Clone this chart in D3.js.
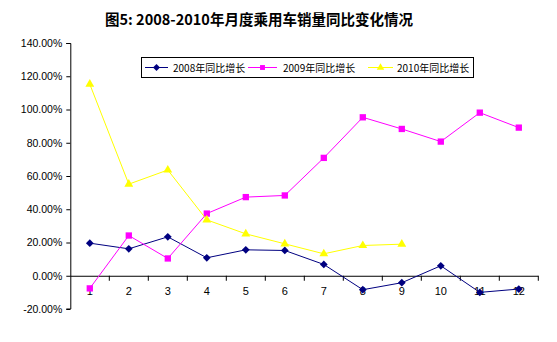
<!DOCTYPE html>
<html><head><meta charset="utf-8">
<script src="https://cdn.jsdelivr.net/npm/d3@7"></script>
<style>body{margin:0;background:#fff}svg{display:block}</style>
</head><body>
<script>
const title = "图5: 2008-2010年月度乘用车销量同比变化情况";
const months = ["1","2","3","4","5","6","7","8","9","10","11","12"];
const yTicks = [-20,0,20,40,60,80,100,120,140];
const s2008 = [19.6,16.2,23.4,10.8,15.6,15.2,6.8,-8.4,-4.2,6.0,-10.0,-8.0];
const s2009 = [-7.6,24.2,10.4,37.4,47.3,48.3,70.9,95.3,88.3,80.7,98.1,89.1];
const s2010 = [115.2,55.1,63.6,33.6,25.2,19.2,13.2,18.2,19.0];
const seriesNames = ["2008年同比增长","2009年同比增长","2010年同比增长"];
const colors = ["#000080","#FF00FF","#FFFF00"];
const diamond = {draw(ctx,size){const r=Math.sqrt(size/2);ctx.moveTo(0,-r);ctx.lineTo(r,0);ctx.lineTo(0,r);ctx.lineTo(-r,0);ctx.closePath();}};
const shapes = [diamond, d3.symbolSquare, d3.symbolTriangle];
const sizes = [30,40,34];

const W=557,H=342;
const svg=d3.select("body").append("svg").attr("width",W).attr("height",H);
const x=d3.scaleBand().domain(months).range([70.3,538.3]);
const y=d3.scaleLinear().domain([-20,140]).range([309,43]);

svg.append("text").attr("x",259).attr("y",25).attr("text-anchor","middle")
  .attr("font-family","'Noto Sans CJK SC'").attr("font-weight","bold").attr("font-size",14.5)
  .text(title);

// y axis
const ya=svg.append("g").attr("transform","translate(70.3,0)")
  .call(d3.axisLeft(y).tickValues(yTicks).tickSize(4).tickPadding(4).tickFormat(d=>d.toFixed(2)+"%"));
ya.select(".domain").attr("stroke","#000").attr("d","M-4,43.5H0.5V309H-4");
ya.selectAll("line").attr("stroke","#000");
ya.selectAll("text").attr("font-family","'Liberation Sans'").attr("font-size",10.5).attr("fill","#000");

// x axis at 0
const xa=svg.append("g").attr("transform",`translate(0,${y(0)})`)
  .call(d3.axisBottom(x).tickSize(0).tickPadding(11));
xa.select(".domain").attr("d",`M70.3,0.5H538.3`).attr("stroke","#000");
xa.selectAll("text").attr("font-family","'Liberation Sans'").attr("font-size",11).attr("fill","#000");
xa.selectAll(".bt").data(d3.range(1,13)).enter().append("line").attr("class","bt")
  .attr("x1",i=>70.3+i*x.step()).attr("x2",i=>70.3+i*x.step()).attr("y1",0).attr("y2",5).attr("stroke","#000");

const all=[s2008,s2009,s2010];
const line=d3.line().x((d,i)=>x(months[i])+x.bandwidth()/2).y(d=>y(d));
all.forEach((s,k)=>{
  svg.append("path").datum(s).attr("d",line).attr("fill","none").attr("stroke",colors[k]).attr("stroke-width",1);
  svg.selectAll(".m"+k).data(s).enter().append("path")
    .attr("transform",(d,i)=>`translate(${x(months[i])+x.bandwidth()/2},${y(d)})`)
    .attr("d",d3.symbol().type(shapes[k]).size(sizes[k])).attr("fill",colors[k]);
});

// legend
const lg=svg.append("g");
lg.append("rect").attr("x",141.5).attr("y",57.5).attr("width",332).attr("height",20).attr("fill","#fff").attr("stroke","#000");
const lx=[145,248,368], ll=[23,29,25], lt=[28,35,29];
seriesNames.forEach((n,k)=>{
  const g=lg.append("g").attr("transform",`translate(${lx[k]},67.5)`);
  g.append("line").attr("x1",0).attr("x2",ll[k]).attr("stroke",colors[k]);
  g.append("path").attr("transform",`translate(${ll[k]/2},0)`).attr("d",d3.symbol().type(shapes[k]).size(24)).attr("fill",colors[k]);
  g.append("text").attr("x",lt[k]).attr("y",4).attr("font-family","'Noto Sans CJK SC'").attr("font-size",10).text(n);
});
</script>
</body></html>
